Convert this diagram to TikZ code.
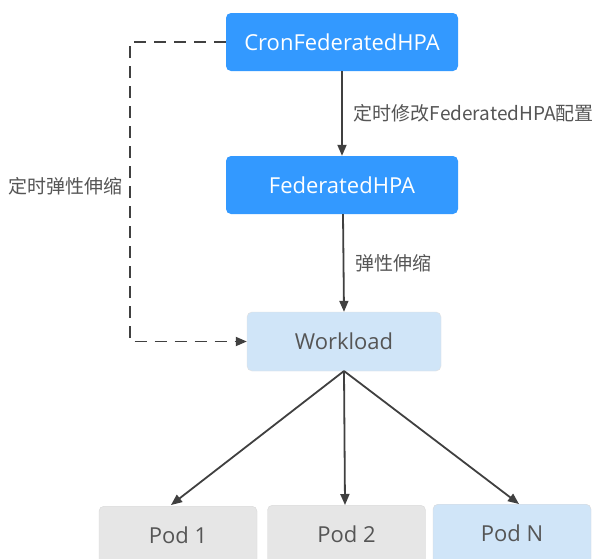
\documentclass[tikz,border=0pt]{standalone}
\usepackage{fontspec}
\setmainfont{Open Sans}
\newfontfamily\cjk{Noto Sans CJK SC}
\usetikzlibrary{arrows.meta}
\definecolor{hblue}{RGB}{51,153,255}
\definecolor{lblue}{RGB}{208,229,248}
\definecolor{lgray}{RGB}{230,230,230}
\definecolor{txtgray}{RGB}{85,85,85}
\definecolor{linegray}{RGB}{64,64,64}
\tikzset{
  bluebox/.style={draw=none,fill=hblue,rounded corners=5pt,minimum width=232pt,minimum height=58pt,text=white,font=\fontsize{22}{26}\selectfont,inner sep=0pt},
  lightbox/.style={draw=black!12,fill=lblue,rounded corners=5pt,minimum width=194pt,minimum height=59pt,text=txtgray,font=\fontsize{22}{26}\selectfont,inner sep=0pt},
  podbox/.style={draw=black!15,rounded corners=5pt,minimum width=158pt,minimum height=80pt,inner sep=0pt},
  podtxt/.style={text=txtgray,font=\fontsize{22}{26}\selectfont,inner sep=0pt},
  conn/.style={draw=linegray,line width=1.8pt,-{Triangle[length=11pt,width=9pt]}},
  lbl/.style={text=txtgray,font=\cjk\fontsize{19}{23}\selectfont,inner sep=0pt}
}
\begin{document}
\begin{tikzpicture}[x=1pt,y=-1pt]
\useasboundingbox (0,0) rectangle (595,558);
\clip (0,0) rectangle (595,558);
\fill[white] (0,0) rectangle (595,558);
\node[bluebox] (cron) at (342,42) {CronFederatedHPA};
\node[bluebox] (fhpa) at (342,185) {FederatedHPA};
\node[lightbox] (wl) at (344,341.5) {Workload};
\node[podbox,fill=lgray,anchor=north] (p1) at (178,506) {};
\node[podbox,fill=lgray,anchor=north] (p2) at (346.5,505) {};
\node[podbox,fill=lblue,anchor=north] (pn) at (512,504) {};
\node[podtxt] (p1t) at (178,535) {Pod 1};
\node[podtxt] (p2t) at (346.5,534) {Pod 2};
\node[podtxt] (pnt) at (512,533) {Pod N};
\draw[conn] (cron.south) -- (fhpa.north) node[lbl,midway,anchor=west,xshift=11pt] (l1) {定时修改FederatedHPA配置};
\draw[conn] ([xshift=1pt]fhpa.south) -- ([xshift=0pt]wl.north) node[lbl,pos=0.5,anchor=west,xshift=11pt] (l2) {弹性伸缩};
\coordinate (c1) at (130,42);
\coordinate (c2) at (130,341.5);
\draw[conn,dash pattern=on 12pt off 8pt] (cron.west) -- (c1) -- (c2) -- (wl.west);
\node[lbl,anchor=east] (l3) at (123,186) {定时弹性伸缩};
\coordinate (wb) at (344,371);
\draw[conn] (wb) -- (171,505);
\draw[conn] (wb) -- (345,505);
\draw[conn] (wb) -- (519,504);
\end{tikzpicture}
\end{document}
